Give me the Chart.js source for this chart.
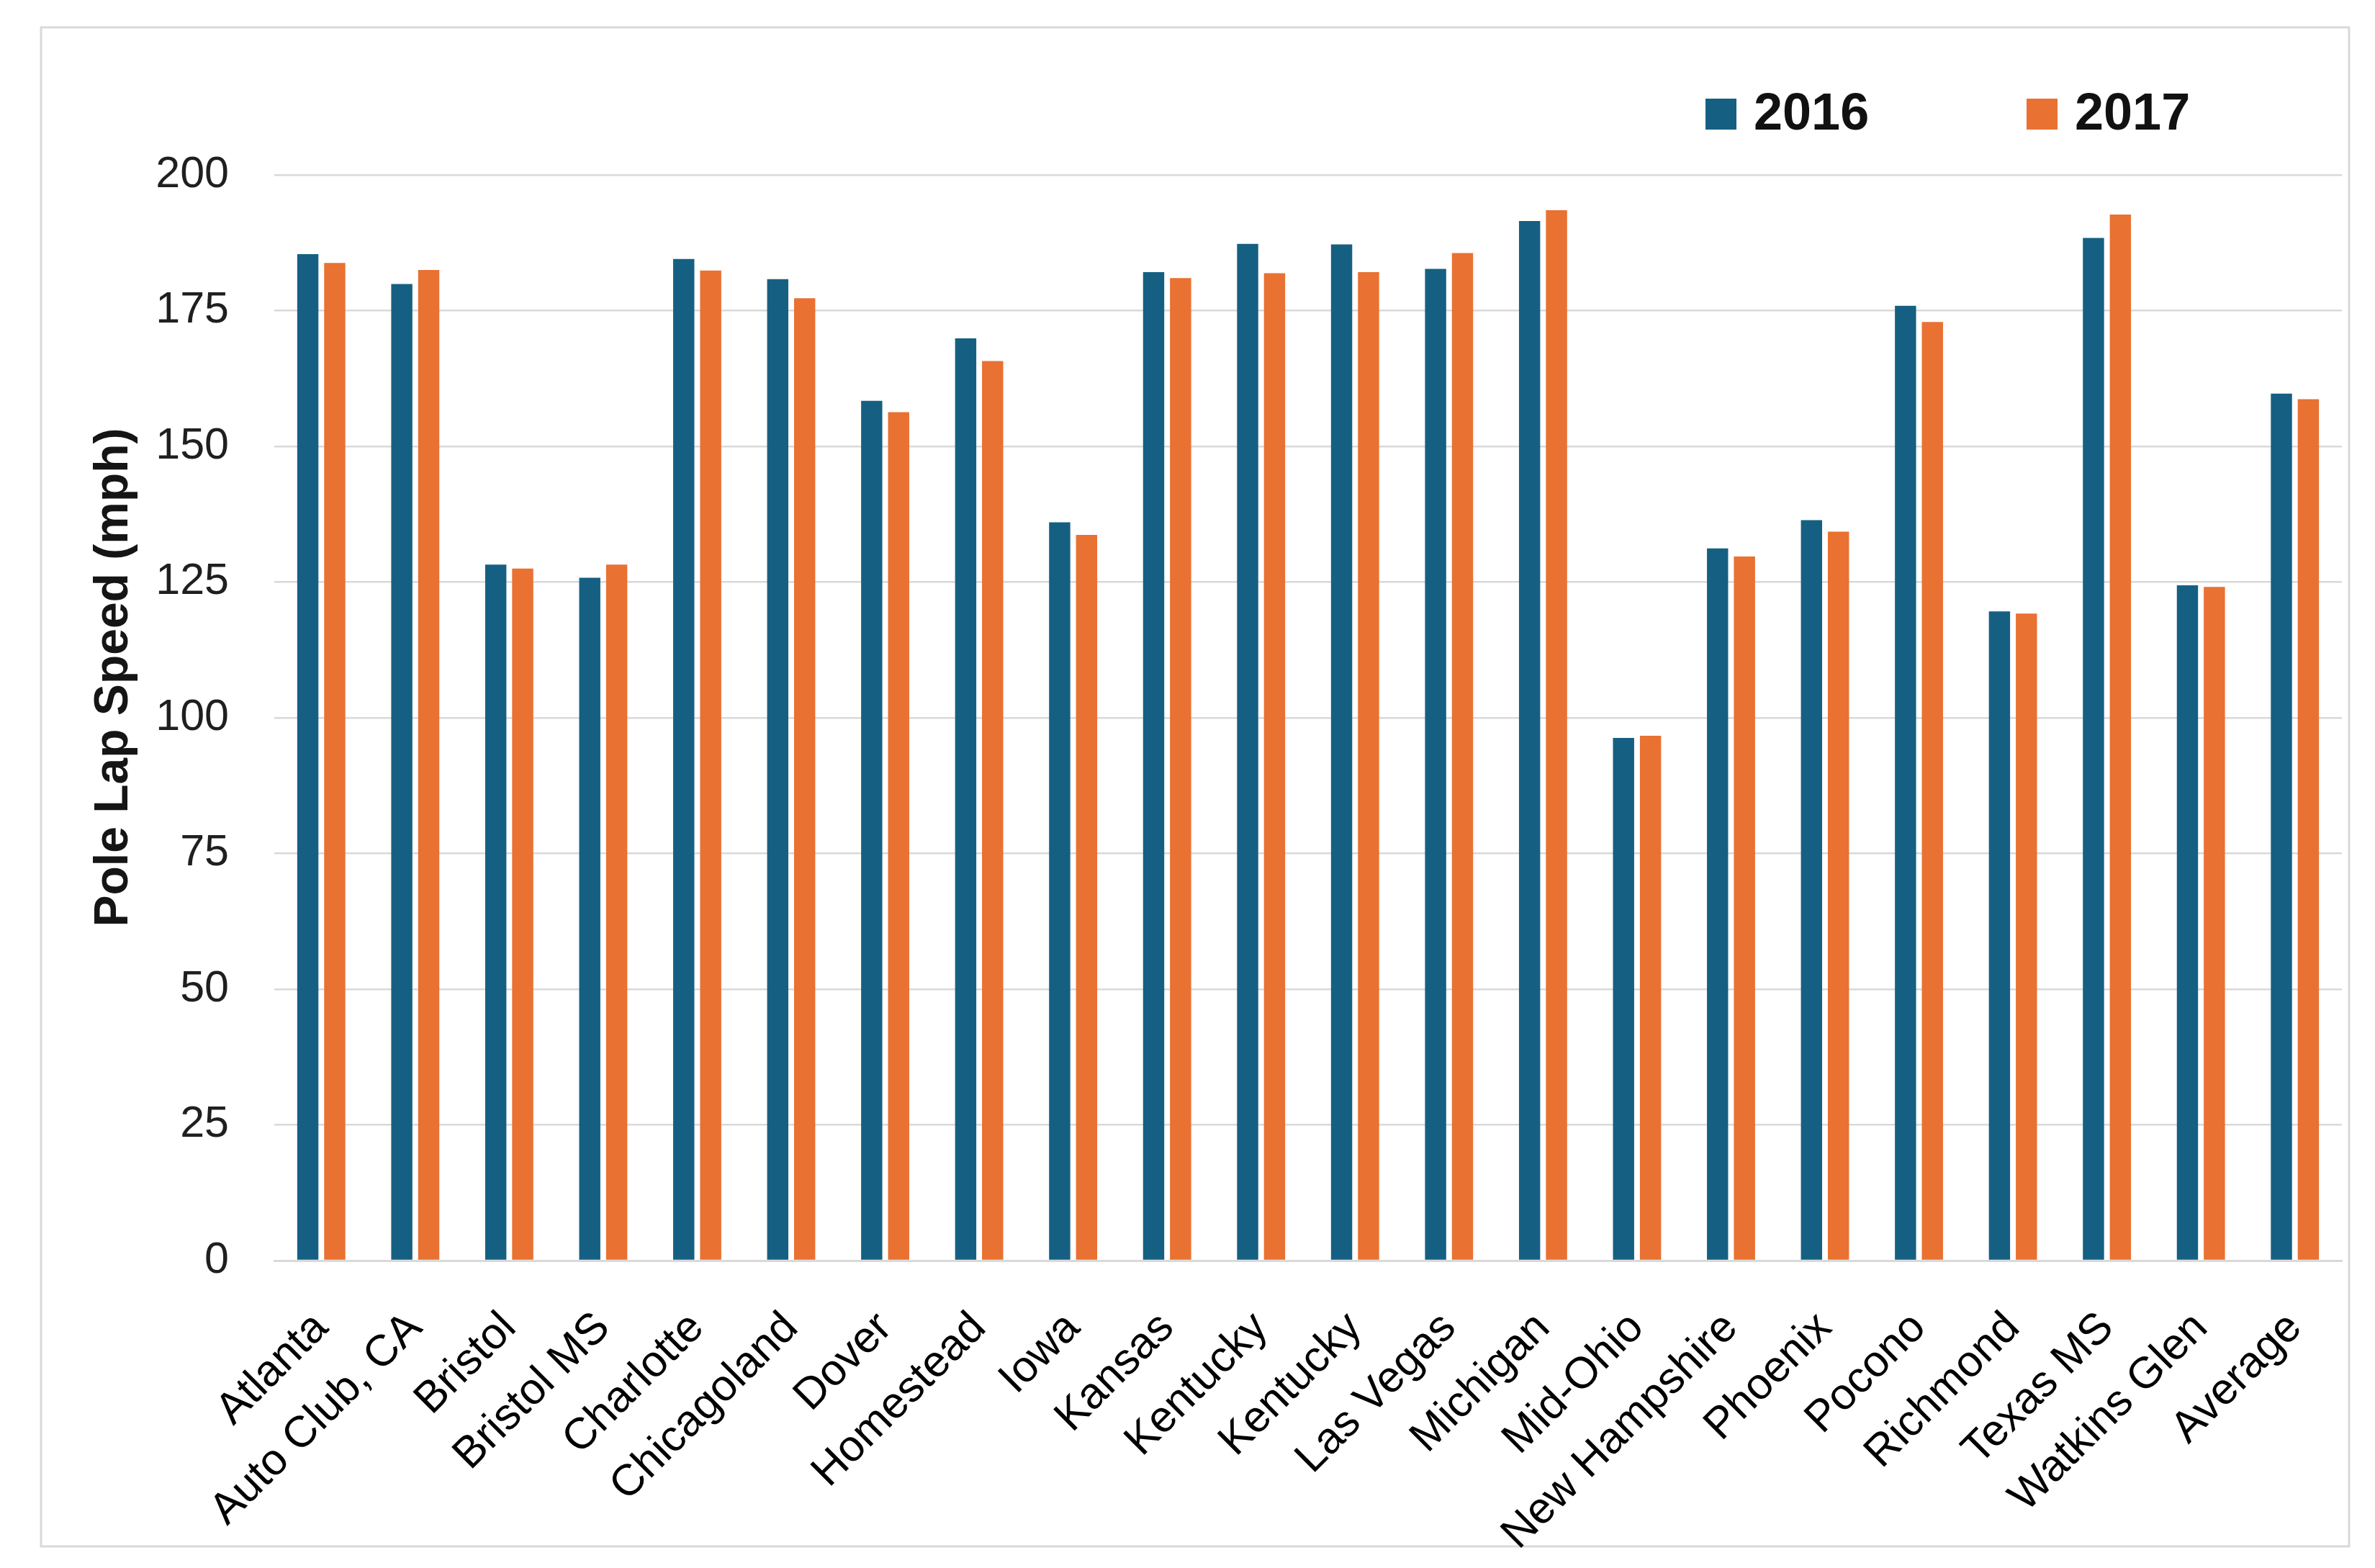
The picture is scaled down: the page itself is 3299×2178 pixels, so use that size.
<!DOCTYPE html>
<html>
<head>
<meta charset="utf-8">
<script src="https://cdn.jsdelivr.net/npm/chart.js@4.4.1/dist/chart.umd.min.js"></script>
<style>
    html, body { margin: 0; padding: 0; background: #ffffff; }
    canvas { display: block; }
</style>
</head>
<body>
<canvas id="poleChart" width="3299" height="2178"></canvas>
<script>
// Track names (Kentucky appears twice in the source)
const tracks = ['Atlanta', 'Auto Club, CA', 'Bristol', 'Bristol MS', 'Charlotte', 'Chicagoland',
    'Dover', 'Homestead', 'Iowa', 'Kansas', 'Kentucky', 'Kentucky', 'Las Vegas', 'Michigan',
    'Mid-Ohio', 'New Hampshire', 'Phoenix', 'Pocono', 'Richmond', 'Texas MS', 'Watkins Glen', 'Average'];

// Pole lap speed, mph
const speeds2016 = [185.4, 179.9, 128.2, 125.8, 184.5, 180.8, 158.4, 169.9, 136.0, 182.1, 187.3,
    187.2, 182.7, 191.5, 96.3, 131.2, 136.4, 175.9, 119.6, 188.4, 124.4, 159.7];
const speeds2017 = [183.8, 182.5, 127.5, 128.2, 182.4, 177.3, 156.3, 165.7, 133.7, 181.0, 181.9,
    182.1, 185.6, 193.5, 96.7, 129.7, 134.3, 172.9, 119.2, 192.7, 124.1, 158.7];

const seriesNames = ['2016', '2017'];
const yTicks = [0, 25, 50, 75, 100, 125, 150, 175, 200];
const yTitle = 'Pole Lap Speed (mph)';

const colors = {
    y2016: '#156082',
    y2017: '#E97132',
    grid: '#d9d9d9',
    text: '#1f1f1f'
};

// frame, legend and rotated axis title
const decorations = {
    id: 'decorations',
    beforeDraw(chart) {
        const ctx = chart.ctx;
        ctx.save();
        ctx.fillStyle = '#ffffff';
        ctx.fillRect(0, 0, chart.width, chart.height);
        ctx.strokeStyle = colors.grid;
        ctx.lineWidth = 3;
        ctx.strokeRect(57, 38, 3206, 2110);
        ctx.restore();
    },
    afterDraw(chart) {
        const ctx = chart.ctx;
        ctx.save();
        // legend
        ctx.font = 'bold 72px "Liberation Sans", Arial, sans-serif';
        ctx.textBaseline = 'middle';
        ctx.textAlign = 'left';
        chart.data.datasets.forEach(function (ds, i) {
            const x = 2369 + i * 446;
            ctx.fillStyle = ds.backgroundColor;
            ctx.fillRect(x, 137, 43, 43);
            ctx.fillStyle = '#111111';
            ctx.fillText(ds.label, x + 67, 160);
        });
        // y axis title
        ctx.translate(159, 941);
        ctx.rotate(-Math.PI / 2);
        ctx.textAlign = 'center';
        ctx.font = 'bold 66px "Liberation Sans", Arial, sans-serif';
        ctx.fillStyle = '#151515';
        ctx.fillText(yTitle, 0, 0);
        ctx.restore();
    }
};

const ctx = document.getElementById('poleChart');
new Chart(ctx, {
    type: 'bar',
    data: {
        labels: tracks,
        datasets: [
            {
                label: seriesNames[0],
                data: speeds2016,
                backgroundColor: colors.y2016,
                categoryPercentage: 0.573,
                barPercentage: 0.787
            },
            {
                label: seriesNames[1],
                data: speeds2017,
                backgroundColor: colors.y2017,
                categoryPercentage: 0.573,
                barPercentage: 0.787
            }
        ]
    },
    options: {
        responsive: false,
        devicePixelRatio: 1,
        animation: false,
        layout: {
            padding: { left: 60, right: 46, top: 243, bottom: 0 }
        },
        plugins: {
            legend: { display: false },
            tooltip: { enabled: false }
        },
        scales: {
            x: {
                grid: { display: false },
                border: { color: colors.grid, width: 3 },
                ticks: {
                    autoSkip: false,
                    maxRotation: 45,
                    minRotation: 45,
                    padding: 50,
                    color: '#000000',
                    font: { family: '"Liberation Sans", Arial, sans-serif', size: 61 }
                },
                afterFit: function (scale) { scale.height = 427; }
            },
            y: {
                min: 0,
                max: 200,
                afterBuildTicks: function (scale) {
                    scale.ticks = yTicks.map(v => ({ value: v }));
                },
                grid: {
                    color: colors.grid,
                    lineWidth: 2.5,
                    drawTicks: false
                },
                border: { display: false },
                ticks: {
                    padding: 63,
                    color: colors.text,
                    font: { family: '"Liberation Sans", Arial, sans-serif', size: 61 }
                },
                afterFit: function (scale) { scale.width = 321; }
            }
        }
    },
    plugins: [decorations]
});
</script>
</body>
</html>
